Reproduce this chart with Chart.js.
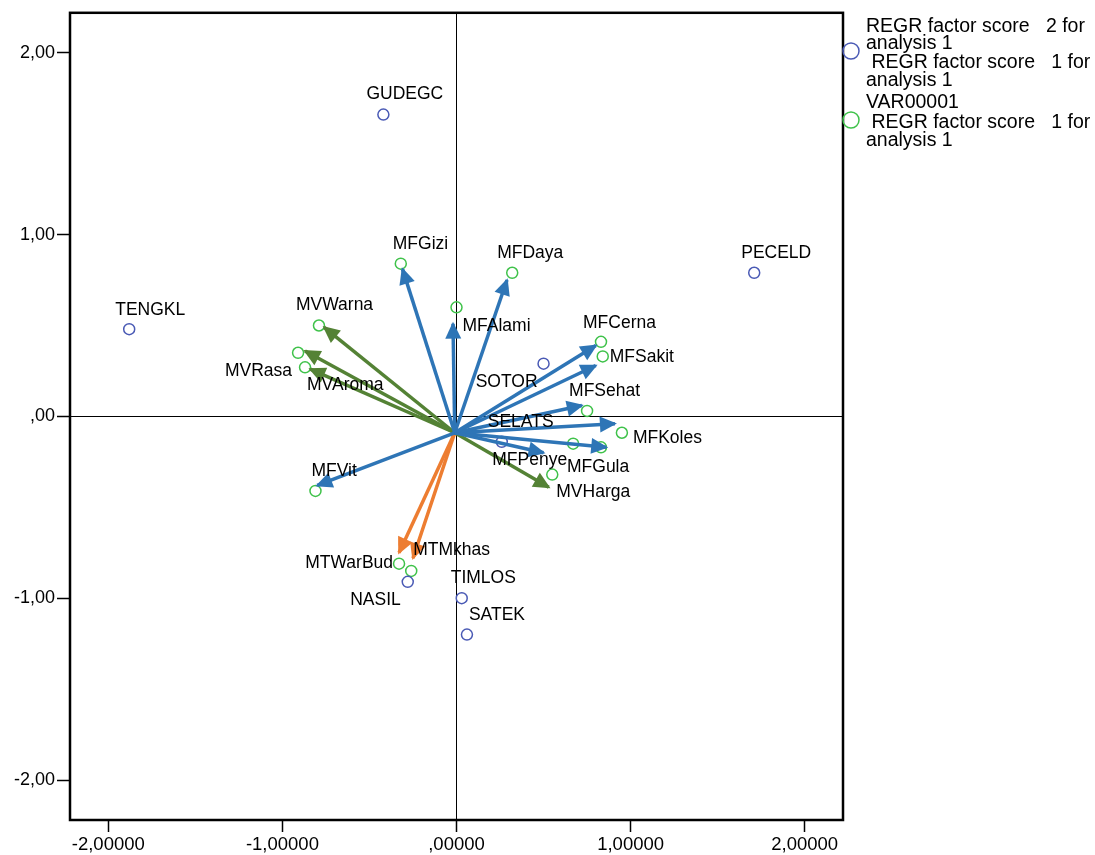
<!DOCTYPE html>
<html>
<head>
<meta charset="utf-8">
<script src="https://cdn.jsdelivr.net/npm/chart.js@4.4.1/dist/chart.umd.min.js"></script>
<style>
	html, body { margin: 0; padding: 0; background: #fff; }
	#wrap { width: 1095px; height: 855px; }
</style>
</head>
<body>
<div id="wrap"><canvas id="chart" width="1095" height="855"></canvas></div>
<script>
// objects (REGR factor score 1 / 2)
var objNames = ['GUDEGC', 'TENGKL', 'PECELD', 'SOTOR', 'SELATS', 'NASIL', 'TIMLOS', 'SATEK'];
var objX = [-0.42, -1.88, 1.71, 0.50, 0.26, -0.28, 0.03, 0.06];
var objY = [1.66, 0.48, 0.79, 0.29, -0.14, -0.91, -1.00, -1.20];

// variables (VAR00001)
var varNames = ['MFGizi', 'MFDaya', 'MFAlami', 'MVWarna', 'MVRasa', 'MVAroma', 'MFCerna', 'MFSakit',
	'MFSehat', 'MFKoles', 'MFGula', 'MFPenye', 'MVHarga', 'MFVit', 'MTWarBud', 'MTMkhas'];
var varX = [-0.32, 0.32, 0.00, -0.79, -0.91, -0.87, 0.83, 0.84, 0.75, 0.95, 0.83, 0.67, 0.55, -0.81, -0.33, -0.26];
var varY = [0.84, 0.79, 0.60, 0.50, 0.35, 0.27, 0.41, 0.33, 0.03, -0.09, -0.17, -0.15, -0.32, -0.41, -0.81, -0.85];

// arrows, all from one origin
var arrowOrigin = [-0.01, -0.09];
var arrowNames = ['MFGizi', 'MFAlami', 'MFDaya', 'MFCerna', 'MFSakit', 'MFSehat', 'MFKoles', 'MFGula', 'MFPenye', 'MFVit',
	'MVWarna', 'MVRasa', 'MVAroma', 'MVHarga', 'MTWarBud', 'MTMkhas'];
var arrowX = [-0.31, -0.02, 0.29, 0.80, 0.80, 0.72, 0.91, 0.86, 0.50, -0.80, -0.76, -0.87, -0.84, 0.53, -0.33, -0.25];
var arrowY = [0.81, 0.51, 0.75, 0.39, 0.28, 0.06, -0.04, -0.17, -0.20, -0.38, 0.49, 0.36, 0.26, -0.39, -0.75, -0.78];
var arrowGroup = ['F', 'F', 'F', 'F', 'F', 'F', 'F', 'F', 'F', 'F', 'V', 'V', 'V', 'V', 'T', 'T'];

var xTicks = [-2, -1, 0, 1, 2];
var yTicks = [-2, -1, 0, 1, 2];

var groupColors = { F: '#2e75b6', V: '#548235', T: '#ed7d31' };
var FONT = '"Liberation Sans", Arial, sans-serif';

// label placement around each point: [dx, dy, align]
var labelPos = {
	GUDEGC: [-17, -20, 'left'], TENGKL: [-14, -19, 'left'], PECELD: [-13, -20, 'left'],
	SOTOR: [-6, 18, 'right'], SELATS: [-14, -20, 'left'], NASIL: [-7, 18, 'right'],
	TIMLOS: [-11, -20, 'left'], SATEK: [2, -19, 'left'],
	MFGizi: [-8, -20, 'left'], MFDaya: [-15, -20, 'left'], MFAlami: [6, 19, 'left'],
	MVWarna: [-23, -20, 'left'], MVRasa: [-6, 18, 'right'], MVAroma: [2, 18, 'left'],
	MFCerna: [-18, -19, 'left'], MFSakit: [7, 1, 'left'], MFSehat: [-18, -20, 'left'],
	MFKoles: [11, 5, 'left'], MFGula: [-34, 20, 'left'], MFPenye: [-6, 17, 'right'],
	MVHarga: [4, 18, 'left'], MFVit: [-4, -20, 'left'], MTWarBud: [-6, 0, 'right'],
	MTMkhas: [2, -21, 'left']
};

function fmt(v, n) {
	var s = Math.abs(v).toFixed(n).replace('.', ',');
	if (s.indexOf('0,') === 0) s = s.substring(1);
	return (v < 0 ? '-' : '') + s;
}

function toPoints(xs, ys) {
	return xs.map(function(x, i) { return { x: x, y: ys[i] }; });
}

var datasets = [];
arrowNames.forEach(function(name, i) {
	datasets.push({
		type: 'line',
		arrow: true,
		data: [{ x: arrowOrigin[0], y: arrowOrigin[1] }, { x: arrowX[i], y: arrowY[i] }],
		borderColor: groupColors[arrowGroup[i]],
		borderWidth: 3.5,
		pointRadius: 0,
		fill: false,
		order: 0
	});
});
datasets.push({
	label: 'objects',
	names: objNames,
	data: toPoints(objX, objY),
	pointRadius: 5.5,
	borderWidth: 1.5,
	borderColor: '#4a5ab5',
	backgroundColor: 'rgba(0,0,0,0)',
	order: 1
});
datasets.push({
	label: 'variables',
	names: varNames,
	data: toPoints(varX, varY),
	pointRadius: 5.5,
	borderWidth: 1.5,
	borderColor: '#3fc24a',
	backgroundColor: 'rgba(0,0,0,0)',
	order: 1
});

var arrowHeads = {
	id: 'arrowHeads',
	afterDatasetDraw: function(chart, args) {
		var ds = chart.data.datasets[args.index];
		if (!ds.arrow) return;
		var pts = args.meta.data;
		var x0 = pts[0].x, y0 = pts[0].y, x1 = pts[1].x, y1 = pts[1].y;
		var a = Math.atan2(y1 - y0, x1 - x0);
		var len = 17, half = 8;
		var tx = x1 + 2 * Math.cos(a), ty = y1 + 2 * Math.sin(a);
		var ctx = chart.ctx;
		ctx.save();
		ctx.fillStyle = ds.borderColor;
		ctx.beginPath();
		ctx.moveTo(tx, ty);
		ctx.lineTo(tx - len * Math.cos(a) + half * Math.sin(a), ty - len * Math.sin(a) - half * Math.cos(a));
		ctx.lineTo(tx - len * Math.cos(a) - half * Math.sin(a), ty - len * Math.sin(a) + half * Math.cos(a));
		ctx.closePath();
		ctx.fill();
		ctx.restore();
	}
};

var pointLabels = {
	id: 'pointLabels',
	afterDatasetsDraw: function(chart) {
		var ctx = chart.ctx;
		ctx.save();
		ctx.font = '17.5px ' + FONT;
		ctx.fillStyle = '#000';
		ctx.textBaseline = 'middle';
		chart.data.datasets.forEach(function(ds, i) {
			if (!ds.names) return;
			var meta = chart.getDatasetMeta(i);
			ds.names.forEach(function(name, j) {
				var p = meta.data[j];
				var pos = labelPos[name] || [0, -20, 'left'];
				ctx.textAlign = pos[2];
				ctx.fillText(name, p.x + pos[0], p.y + pos[1]);
			});
		});
		ctx.restore();
	}
};

var frameAndLegend = {
	id: 'frameAndLegend',
	afterDraw: function(chart) {
		var ctx = chart.ctx, a = chart.chartArea;
		ctx.save();
		ctx.strokeStyle = '#000';
		ctx.lineWidth = 2.5;
		ctx.strokeRect(a.left, a.top, a.right - a.left, a.bottom - a.top);

		ctx.font = '19.5px ' + FONT;
		ctx.fillStyle = '#000';
		ctx.textBaseline = 'middle';
		ctx.textAlign = 'left';
		var lines = [
			['REGR factor score   2 for', 866, 27], ['analysis 1', 866, 44],
			[' REGR factor score   1 for', 866, 63], ['analysis 1', 866, 81],
			['VAR00001', 866, 103],
			[' REGR factor score   1 for', 866, 123], ['analysis 1', 866, 141]
		];
		lines.forEach(function(l) { ctx.fillText(l[0], l[1], l[2]); });

		ctx.lineWidth = 1.5;
		ctx.strokeStyle = '#4a5ab5';
		ctx.beginPath();
		ctx.arc(851, 51, 8, 0, Math.PI * 2);
		ctx.stroke();
		ctx.strokeStyle = '#3fc24a';
		ctx.beginPath();
		ctx.arc(851, 120, 8, 0, Math.PI * 2);
		ctx.stroke();
		ctx.restore();
	}
};

function zeroLine(ctx) {
	return ctx.tick && ctx.tick.value === 0 ? '#000' : 'rgba(0,0,0,0)';
}

new Chart(document.getElementById('chart'), {
	type: 'scatter',
	data: { datasets: datasets },
	plugins: [arrowHeads, pointLabels, frameAndLegend],
	options: {
		responsive: false,
		animation: false,
		layout: { padding: { top: 12, right: 252, left: 0, bottom: 0 } },
		plugins: { legend: { display: false }, tooltip: { enabled: false } },
		scales: {
			x: {
				type: 'linear',
				min: -2.22,
				max: 2.22,
				afterBuildTicks: function(scale) {
					scale.ticks = xTicks.map(function(v) { return { value: v }; });
				},
				afterFit: function(scale) { scale.height = 35; },
				border: { display: false },
				grid: { color: zeroLine, lineWidth: 1, tickColor: '#000', tickLength: 12, tickWidth: 1.5 },
				ticks: {
					color: '#000',
					font: { family: FONT, size: 18.5 },
					padding: 2,
					maxRotation: 0,
					callback: function(v) { return fmt(v, 5); }
				}
			},
			y: {
				type: 'linear',
				min: -2.22,
				max: 2.22,
				afterBuildTicks: function(scale) {
					scale.ticks = yTicks.map(function(v) { return { value: v }; });
				},
				afterFit: function(scale) { scale.width = 70; },
				border: { display: false },
				grid: { color: zeroLine, lineWidth: 1, tickColor: '#000', tickLength: 13, tickWidth: 1.5 },
				ticks: {
					color: '#000',
					font: { family: FONT, size: 18 },
					padding: 2,
					callback: function(v) { return fmt(v, 2); }
				}
			}
		}
	}
});
</script>
</body>
</html>
